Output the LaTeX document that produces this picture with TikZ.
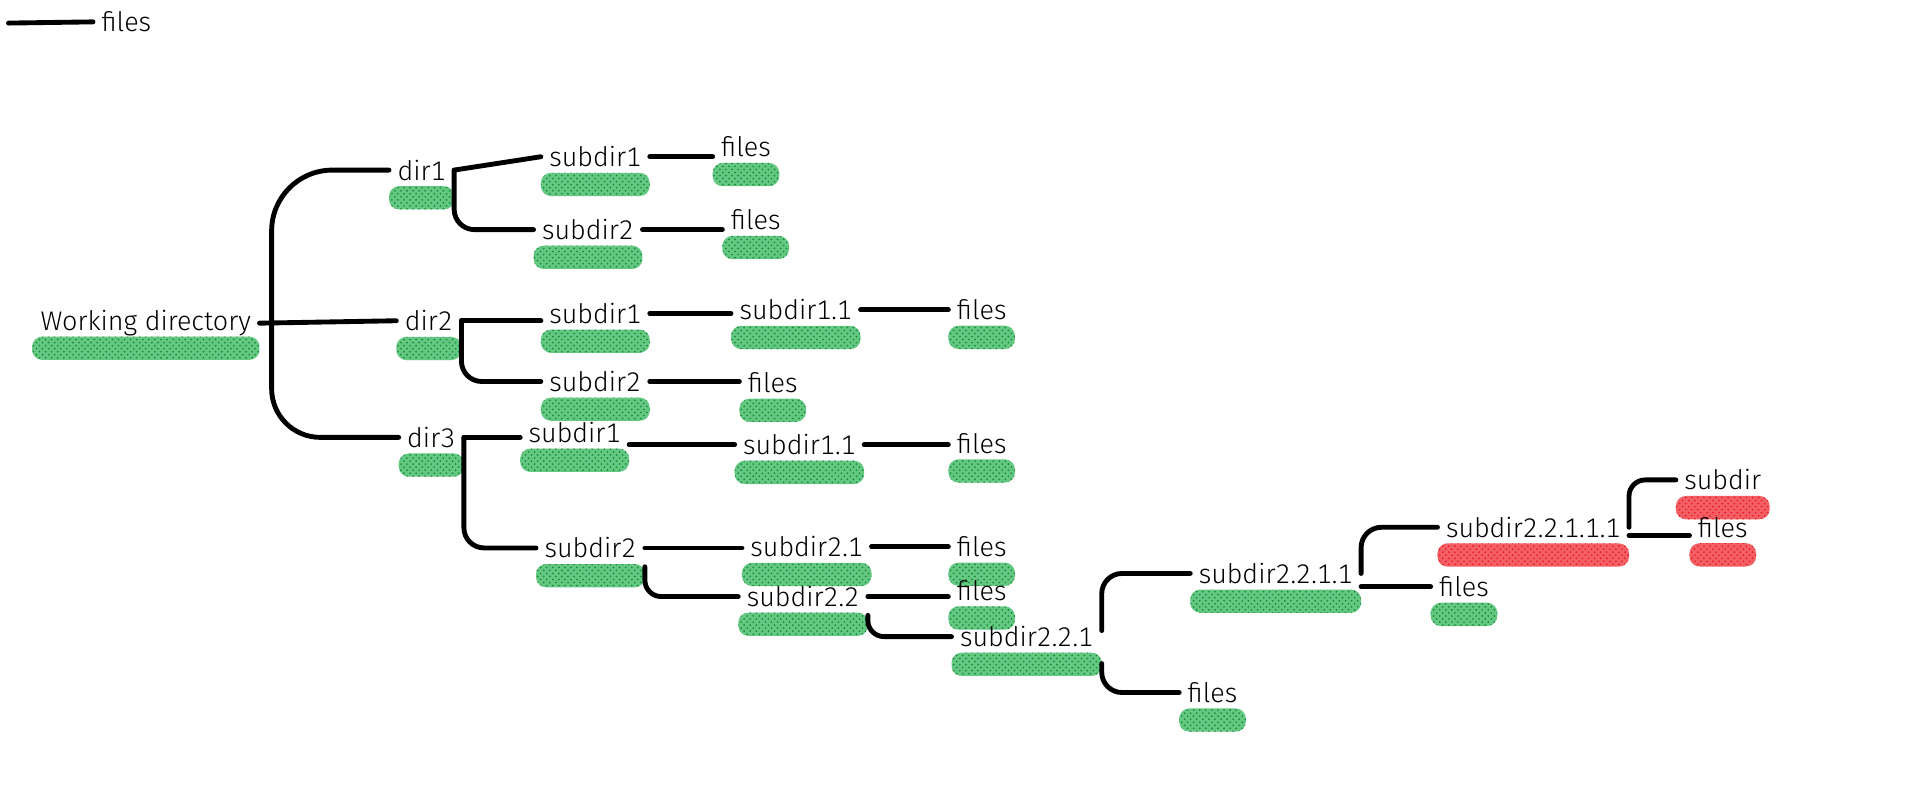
\documentclass[tikz,border=0pt]{standalone}
\usepackage{fontspec}
\setmainfont{Fira Sans Light}[Numbers=Monospaced]
\usetikzlibrary{patterns,backgrounds}
\definecolor{scrgreen}{HTML}{22B14C}
\definecolor{scrred}{HTML}{ED1C24}
\newcommand{\scrib}[2]{\path[#2] ([yshift=-3pt]#1.base west) rectangle ([yshift=-14.5pt]#1.base east);}

\begin{document}
\begin{tikzpicture}[
  x=0.6pt, y=-0.6pt,
  lbl/.style={inner sep=4pt, font=\fontsize{13.3}{16}\selectfont},
  link/.style={line width=2.4pt, line cap=round},
  fork/.style={link, rounded corners=#1},
  fork/.default=10pt,
  gmark/.style={preaction={fill=scrgreen!70}, pattern=crosshatch dots, pattern color=scrgreen!80!black, rounded corners=5pt},
  rmark/.style={preaction={fill=scrred!70}, pattern=crosshatch dots, pattern color=scrred, rounded corners=5pt}
]
\useasboundingbox (0,0) rectangle (1568,662);

% legend
\coordinate (legl) at (7,19);
\node[lbl] (legf) at (104,18) {files};
\draw[link] (legl) -- (legf.west);

% root and first level
\node[lbl] (wd) at (120,266) {Working directory};
\node[lbl] (dir1) at (347,140) {dir1};
\node[lbl] (dir2) at (353,264) {dir2};
\node[lbl] (dir3) at (355,360) {dir3};

% dir1
\node[lbl] (d1s1) at (490,129) {subdir1};
\node[lbl] (d1s2) at (484,189) {subdir2};
\node[lbl] (d1s1f) at (614,121) {files};
\node[lbl] (d1s2f) at (622,181) {files};

% dir2
\node[lbl] (d2s1) at (490,258) {subdir1};
\node[lbl] (d2s11) at (655,255) {subdir1.1};
\node[lbl] (d2s11f) at (808,255) {files};
\node[lbl] (d2s2) at (490,314) {subdir2};
\node[lbl] (d2s2f) at (636,315) {files};

% dir3
\node[lbl] (d3s1) at (473,356) {subdir1};
\node[lbl] (d3s11) at (658,366) {subdir1.1};
\node[lbl] (d3s11f) at (808,365) {files};
\node[lbl] (d3s2) at (486,451) {subdir2};
\node[lbl] (d3s21) at (664,450) {subdir2.1};
\node[lbl] (d3s21f) at (808,450) {files};
\node[lbl] (d3s22) at (661,491) {subdir2.2};
\node[lbl] (d3s22f) at (808,486) {files};
\node[lbl] (s221) at (845,524) {subdir2.2.1};
\node[lbl] (s221f) at (998,570) {files};
\node[lbl] (s2211) at (1050,472) {subdir2.2.1.1};
\node[lbl] (s2211f) at (1205,483) {files};
\node[lbl] (s22111) at (1262,434) {subdir2.2.1.1.1};
\node[lbl] (s22111s) at (1418,395) {subdir};
\node[lbl] (s22111f) at (1418,434) {files};

% scribbles under the names
\begin{scope}[on background layer]
\foreach \n in {wd,dir1,dir2,dir3,d1s1,d1s2,d1s1f,d1s2f,d2s1,d2s11,d2s11f,d2s2,d2s2f,
  d3s1,d3s11,d3s11f,d3s2,d3s21,d3s21f,d3s22,d3s22f,s221,s221f,s2211,s2211f}
  {\scrib{\n}{gmark}}
\foreach \n in {s22111,s22111s,s22111f}
  {\scrib{\n}{rmark}}
\end{scope}

% connectors
\coordinate (wdfork) at ([xshift=6pt]wd.east);
\draw[link] (wd.east) -- (dir2.west);
\draw[fork=30pt] (wdfork) |- (dir1.west);
\draw[fork=24pt] (wdfork) |- (dir3.west);

\draw[link] (dir1.east) -- (d1s1.west);
\draw[fork] (dir1.east) |- (d1s2.west);
\draw[link] (d1s1.east) -- (d1s1f.west |- d1s1.east);
\draw[link] (d1s2.east) -- (d1s2f.west |- d1s2.east);

\draw[link] (dir2.east) -- (d2s1.west |- dir2.east);
\draw[fork] (dir2.east) |- (d2s2.west);
\draw[link] (d2s1.east) -- (d2s11.west |- d2s1.east);
\draw[link] (d2s11.east) -- (d2s11f.west |- d2s11.east);
\draw[link] (d2s2.east) -- (d2s2f.west |- d2s2.east);

\draw[link] (dir3.east) -- (d3s1.west |- dir3.east);
\draw[fork] (dir3.east) |- (d3s2.west);
\draw[link] (d3s1.east |- d3s11.west) -- (d3s11.west);
\draw[link] (d3s11.east) -- (d3s11f.west |- d3s11.east);
\draw[link] (d3s2.east) -- (d3s21.west |- d3s2.east);
\draw[fork=8pt] (d3s2.south east) |- (d3s22.west);
\draw[link] (d3s21.east) -- (d3s21f.west |- d3s21.east);
\draw[link] (d3s22.east) -- (d3s22f.west |- d3s22.east);
\draw[fork=8pt] (d3s22.south east) |- (s221.west);

\draw[fork] ([yshift=3pt]s221.east) |- (s2211.west);
\draw[fork] ([yshift=-4pt]s221.south east) |- (s221f.west);
\draw[fork] (s2211.east) |- (s22111.west);
\draw[link] (s2211.east |- s2211f.west) -- (s2211f.west);
\draw[fork=8pt] (s22111.east) |- (s22111s.west);
\draw[link] ([yshift=-4pt]s22111.east) -- ([yshift=-4pt]s22111f.west);
\end{tikzpicture}
\end{document}
